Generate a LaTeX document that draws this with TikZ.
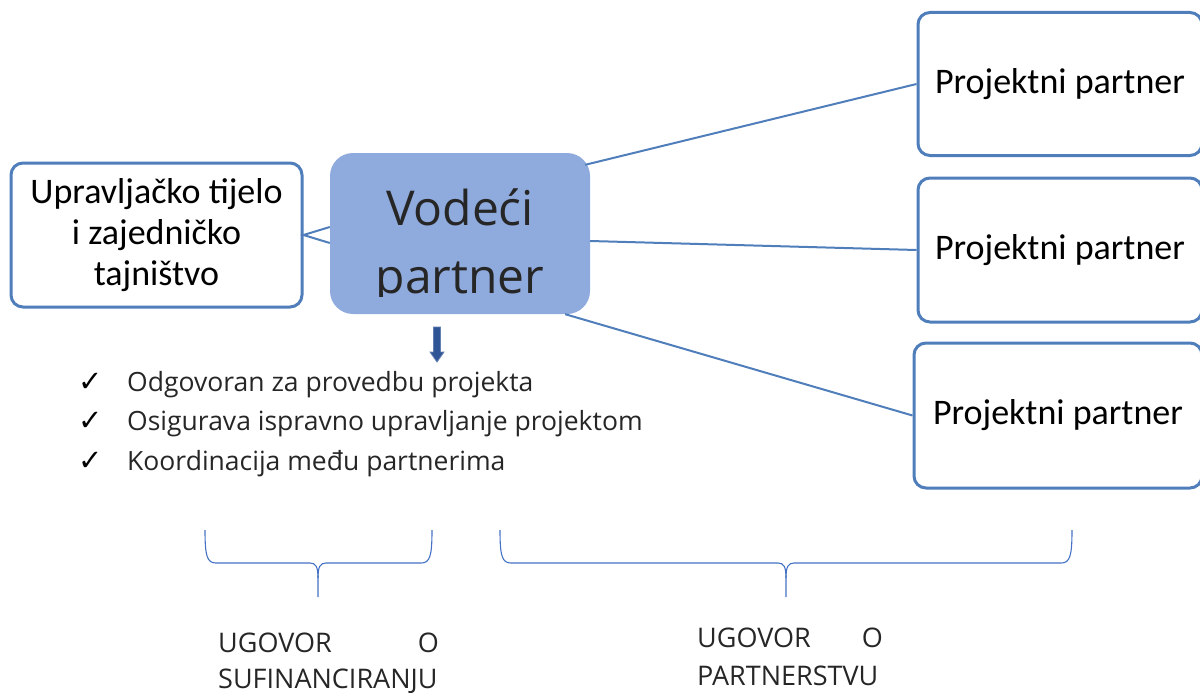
\documentclass[tikz,border=0pt]{standalone}
\usepackage{fontspec}
\setmainfont{Open Sans}
\newfontfamily\osans{Open Sans}
\newfontfamily\calfont{Carlito}
\newfontfamily\dvsfont{DejaVu Sans}
\definecolor{bord}{RGB}{79,126,187}
\definecolor{vfill}{RGB}{143,170,220}
\definecolor{brc}{RGB}{68,114,196}
\definecolor{txt}{RGB}{38,38,38}
\definecolor{arr}{RGB}{47,85,151}
\tikzset{
  ppbox/.style={draw=bord, line width=3pt, rounded corners=12pt, fill=white,
    minimum width=284pt, minimum height=143pt, inner sep=0pt,
    font=\calfont\fontsize{36}{41}\selectfont, text=black},
  upbox/.style={draw=bord, line width=3pt, rounded corners=12pt, fill=white,
    minimum width=291pt, minimum height=144pt, inner sep=0pt, align=center,
    font=\calfont\fontsize{36}{41}\selectfont, text=black},
  vpbox/.style={fill=vfill, rounded corners=23pt, minimum width=260pt,
    minimum height=161pt, inner sep=0pt},
  vtext/.style={anchor=base, inner sep=0pt, font=\osans\fontsize{48}{60}\selectfont, text=txt},
  conn/.style={draw=bord, line width=2pt},
  br/.style={draw=brc, line width=1.1pt},
  chk/.style={anchor=base west, inner sep=0pt, font=\osans\fontsize{26.5}{32}\selectfont, text=txt},
  ck/.style={anchor=base west, inner sep=0pt, font=\dvsfont\fontsize{29}{32}\selectfont, text=black},
  ug/.style={inner sep=0pt, font=\osans\fontsize{27}{32}\selectfont, text=txt},
}
\begin{document}
\begin{tikzpicture}[x=1pt,y=-1pt]
\useasboundingbox (0,0) rectangle (1200,693);
% nodes
\node[ppbox] (p1) at (1060,84) {Projektni partner};
\node[ppbox, minimum height=144pt] (p2) at (1060,250) {Projektni partner};
\node[ppbox, minimum width=288pt, minimum height=145pt] (p3) at (1058,415.5) {Projektni partner};
\node[upbox] (up) at (156.5,235) {Upravljačko tijelo\\i zajedničko\\tajništvo};
\node[vpbox] (vp) at (460,233.5) {};
\begin{scope}
\clip (330,150) rectangle (590,296);
\node[vtext] (vt1) at (460,225) {Vodeći};
\node[vtext] (vt2) at (460,293) {partner};
\end{scope}
% connectors
\draw[conn] ([shift={(-5,12)}]vp.north east) -- (p1.west);
\draw[conn] ([shift={(0,7.5)}]vp.east) -- (p2.west);
\draw[conn] ([shift={(-25,0)}]vp.south east) -- (p3.west);
\draw[conn] ([shift={(0,-6.5)}]vp.west) -- (up.east) -- ([shift={(0,9.5)}]vp.west);
% down arrow
\fill[arr, draw=arr!75!white, line width=0.8pt] (433.5,327) -- (440.5,327) -- (440.5,352) -- (444,352) -- (437,362) -- (430,352) -- (433.5,352) -- cycle;
% checklist
\node[ck] (c1) at (78,391) {✓};
\node[ck] (c2) at (78,430) {✓};
\node[ck] (c3) at (78,470) {✓};
\node[chk] (t1) at (127,391) {Odgovoran za provedbu projekta};
\node[chk] (t2) at (127,430) {Osigurava ispravno upravljanje projektom};
\node[chk] (t3) at (127,470) {Koordinacija među partnerima};
% braces
\draw[br] (205,530) .. controls (205,556) and (207,563) .. (216,563) -- (310,563) .. controls (316,563) and (318,567) .. (318,578) -- (318,597);
\draw[br] (432,530) .. controls (432,556) and (430,563) .. (421,563) -- (326,563) .. controls (320,563) and (318,567) .. (318,578);
\draw[br] (500,530) .. controls (500,556) and (502,563) .. (511,563) -- (778,563) .. controls (784,563) and (786,567) .. (786,578) -- (786,597);
\draw[br] (1072,530) .. controls (1072,556) and (1070,563) .. (1061,563) -- (794,563) .. controls (788,563) and (786,567) .. (786,578);
% contract labels
\node[ug, anchor=base west] (u1) at (218,652) {UGOVOR};
\node[ug, anchor=base east] (o1) at (439,652) {O};
\node[ug, anchor=base west] (s1) at (218,688) {SUFINANCIRANJU};
\node[ug, anchor=base west] (u2) at (697,647) {UGOVOR};
\node[ug, anchor=base east] (o2) at (883,647) {O};
\node[ug, anchor=base west] (s2) at (697,685) {PARTNERSTVU};
\end{tikzpicture}
\end{document}
